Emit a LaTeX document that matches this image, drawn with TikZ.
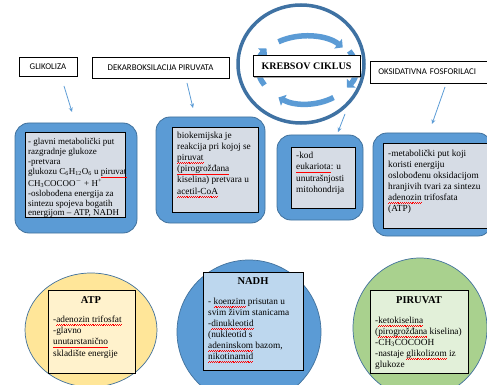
\documentclass[tikz,border=0pt]{standalone}
\usepackage{fontspec}
\setmainfont{Liberation Serif}
\newfontfamily\hdrfont{Carlito}
\usetikzlibrary{arrows.meta,shadows}
\newsavebox\spellbox
\newcommand\spell[1]{\sbox\spellbox{#1}\rlap{\color{red}\hbox to \wd\spellbox{\xleaders\hbox{\rule[-2.9pt]{0.9pt}{0.45pt}\rule[-2.3pt]{0.9pt}{0.45pt}}\hfil}}\usebox\spellbox}
\definecolor{bfill}{HTML}{5B9BD5}
\definecolor{bedge}{HTML}{41719C}
\definecolor{ringc}{HTML}{3F72A3}
\definecolor{igrey}{HTML}{D6DCE5}
\definecolor{yel}{HTML}{FFE699}
\definecolor{cream}{HTML}{FFF2CC}
\definecolor{grn}{HTML}{A9D18E}
\definecolor{lgrn}{HTML}{E2F0D9}
\definecolor{lblue}{HTML}{BDD7EE}
\tikzset{
  hdrbox/.style={draw=black, fill=white, line width=0.7pt, font=\hdrfont\fontsize{8.8}{10}\selectfont,
    inner sep=0pt, drop shadow={shadow xshift=1.2pt, shadow yshift=-1.2pt, opacity=0.7, fill=gray}},
  outerbox/.style={fill=bfill, draw=bedge, line width=0.8pt, rounded corners=14pt},
  innerbox/.style={fill=igrey, draw=black, line width=0.8pt},
  body/.style={anchor=north west, inner sep=0pt, align=left, font=\fontsize{9.3}{#1}\selectfont},
  body/.default=11,
  heading/.style={inner sep=0pt, font=\bfseries\fontsize{10.5}{12}\selectfont},
  thinarrow/.style={draw=bfill, line width=0.8pt, -{Stealth[length=4.5pt,width=4pt]}},
  cyc/.style={draw=bfill, line width=5.5pt, -{Triangle[length=6pt,width=12pt]}},
  bubble/.style={draw=bedge, line width=0.7pt}
}
\begin{document}
\begin{tikzpicture}[x=1pt,y=-1pt]
\useasboundingbox (0,0) rectangle (487,385);

% header boxes
\node[hdrbox, minimum width=58pt, minimum height=19pt] (glik) at (48,66.5) {GLIKOLIZA};
\node[hdrbox, minimum width=137pt, minimum height=21pt] (dekarb) at (160.5,67.5) {DEKARBOKSILACIJA PIRUVATA};
\node[hdrbox, minimum height=22pt, text width=119pt, inner xsep=8pt, align=left, anchor=west] (oksid) at (370,72) {OKSIDATIVNA FOSFORILACI};

% Krebs cycle
\draw[draw=ringc, line width=3.5pt] (301,64) ellipse [x radius=63, y radius=59];
\coordinate (kc) at (306,68);
\draw[cyc] (kc) ++(150:48 and 34) arc[start angle=150, end angle=215, x radius=48, y radius=34];
\draw[cyc] (kc) ++(235:48 and 32) arc[start angle=235, end angle=320, x radius=48, y radius=32];
\draw[cyc] (kc) ++(330:50 and 34) arc[start angle=330, end angle=395, x radius=50, y radius=34];
\draw[cyc] (kc) ++(55:48 and 36) arc[start angle=55, end angle=125, x radius=48, y radius=36];
\node[hdrbox, font=\bfseries\fontsize{10}{12}\selectfont, minimum width=107pt, minimum height=21pt] (krebs) at (306.5,66) {KREBSOV CIKLUS};

% blue rounded boxes
\draw[outerbox] (15,123) rectangle (137,233);
\draw[innerbox] (25,132) rectangle (125,217);
\node[body=9.9, font=\fontsize{9}{9.9}\selectfont] (t1) at (28,138.5) {- glavni metabolički put\\
razgradnje glukoze\\
-pretvara\\
glukozu C\textsubscript{6}H\textsubscript{12}O\textsubscript{6} u \spell{piruvat}\\
CH\textsubscript{3}COCOO\textsuperscript{$-$} + H\textsuperscript{+}\\
-oslobođena energija za\\
sintezu spojeva bogatih\\
energijom – ATP, NADH};

\draw[outerbox] (156,117) rectangle (265,223);
\draw[innerbox] (172,127) rectangle (258,212);
\node[body=11.2] (t2) at (177,131.5) {biokemijska je\\
reakcija pri kojoj se\\
\spell{piruvat}\\
\spell{(pirogrožđana}\\
kiselina) pretvara u\\
\spell{acetil-CoA}};

\draw[outerbox] (277,135) rectangle (363,220);
\draw[innerbox] (291,147) rectangle (355,208);
\node[body=11.5] (t3) at (296,151.5) {-kod\\
\spell{eukariota}: u\\
unutrašnjosti\\
mitohondrija};

\draw[outerbox] (373,133) rectangle (492,236);
\draw[innerbox] (383,143) rectangle (497,228);
\node[body=11] (t4) at (388,149.5) {-metabolički put koji\\
koristi energiju\\
oslobođenu oksidacijom\\
hranjivih tvari za sintezu\\
\spell{adenozin} trifosfata\\
(ATP)};

% arrows
\coordinate (a1s) at (64,86);  \coordinate (a1e) at (72,112);
\coordinate (a2s) at (187,83); \coordinate (a2e) at (193,108);
\coordinate (a3s) at (345,114); \coordinate (a3e) at (338,132);
\coordinate (a4s) at (445,87); \coordinate (a4e) at (432,124);
\draw[thinarrow] (a1s) -- (a1e);
\draw[thinarrow] (a2s) -- (a2e);
\draw[thinarrow] (a3s) -- (a3e);
\draw[thinarrow] (a4s) -- (a4e);

% bottom bubbles
\draw[bubble, fill=yel] (91,330) ellipse [x radius=66, y radius=57];
\draw[draw=black, line width=0.8pt, fill=cream, drop shadow={shadow xshift=1pt, shadow yshift=-1pt, opacity=0.6, fill=gray}] (48,290) rectangle (135,373);
\node[heading] (h1) at (91,300) {ATP};
\node[body=11.3] (b1) at (53,315.5) {-\spell{adenozin trifosfat}\\
-glavno\\
\spell{unutarstanično}\\
skladište energije};

\draw[bubble, fill=bfill] (249,332) ellipse [x radius=72, y radius=72];
\draw[draw=black, line width=0.8pt, fill=lblue] (203,272) rectangle (303,370);
\node[heading] (h2) at (253,281) {NADH};
\node[body=11] (b2) at (208,297.5) {- \spell{koenzim} prisutan u\\
svim živim stanicama\\
-\spell{dinukleotid}\\
(nukleotid s\\
\spell{adeninskom} bazom,\\
\spell{nikotinamid}};

\draw[bubble, fill=grn] (420,328) ellipse [x radius=67, y radius=70];
\draw[draw=black, line width=0.8pt, fill=lgrn] (370,290) rectangle (468,373);
\node[heading] (h3) at (419,300) {PIRUVAT};
\node[body=11] (b3) at (375,316.5) {-\spell{ketokiselina}\\
(\spell{pirogrožđana} kiselina)\\
-CH\textsubscript{3}COCOOH\\
-nastaje \spell{glikolizom} iz\\
glukoze};
\end{tikzpicture}
\end{document}
